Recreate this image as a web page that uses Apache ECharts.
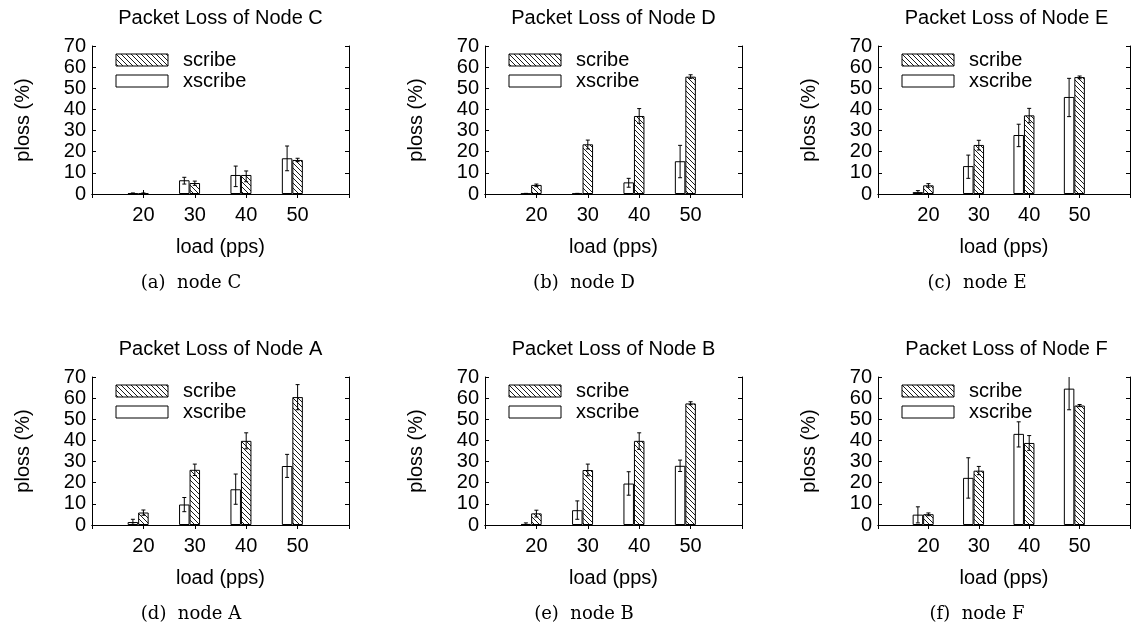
<!DOCTYPE html>
<html>
<head>
<meta charset="utf-8">
<title>Packet Loss</title>
<script src="https://cdn.jsdelivr.net/npm/echarts@6/dist/echarts.min.js"></script>
<style>
  html, body { margin: 0; padding: 0; background: #fff; }
  #chart { width: 1133px; height: 623px; }
</style>
</head>
<body>
<div id="chart"></div>
<script>
// x categories (load in pps)
const loads = ['20', '30', '40', '50'];

// node C
const scribeC = [0.3, 5.2, 9.0, 16.1];
const scribeErrC = [[0.1, 0.5], [4.1, 6.1], [5.8, 10.9], [15.3, 16.9]];
const xscribeC = [0.3, 6.5, 9.0, 16.9];
const xscribeErrC = [[0.1, 0.5], [4.7, 7.9], [3.5, 13.2], [11.0, 22.7]];

// node D
const scribeD = [4.3, 23.5, 36.9, 55.5];
const scribeErrD = [[3.5, 4.7], [21.3, 25.5], [33.4, 40.4], [54.7, 56.4]];
const xscribeD = [0.2, 0.2, 5.5, 15.5];
const xscribeErrD = [[0.1, 0.3], [0.1, 0.3], [3.2, 7.4], [7.7, 23.0]];

// node E
const scribeE = [4.1, 23.2, 37.2, 55.3];
const scribeErrE = [[3.2, 4.9], [20.8, 25.4], [33.7, 40.5], [54.5, 55.8]];
const xscribeE = [0.9, 13.2, 27.9, 45.9];
const xscribeErrE = [[0.2, 1.6], [7.4, 18.4], [22.4, 33.0], [36.6, 54.7]];

// node A
const scribeA = [5.9, 26.1, 39.8, 60.5];
const scribeErrA = [[4.6, 7.1], [23.4, 28.8], [36.0, 43.6], [54.5, 66.4]];
const xscribeA = [1.4, 9.7, 16.9, 27.9];
const xscribeErrA = [[0.3, 2.7], [6.3, 13.0], [9.8, 24.1], [22.5, 33.4]];

// node B
const scribeB = [5.5, 26.0, 39.8, 57.5];
const scribeErrB = [[3.8, 7.0], [23.3, 28.8], [35.8, 43.6], [56.9, 58.3]];
const xscribeB = [0.5, 7.0, 19.6, 28.0];
const xscribeErrB = [[0.2, 1.0], [2.7, 11.4], [14.1, 25.2], [25.3, 30.7]];

// node F
const scribeF = [5.1, 25.7, 38.8, 56.5];
const scribeErrF = [[4.4, 5.7], [23.8, 27.7], [35.3, 42.3], [56.0, 57.0]];
const xscribeF = [4.9, 22.3, 43.1, 64.5];
const xscribeErrF = [[1.0, 8.6], [12.7, 31.8], [36.9, 48.8], [54.5, 72.0]];

const panels = [
  { node: 'C', tag: '(a)', scribe: scribeC, scribeErr: scribeErrC, xscribe: xscribeC, xscribeErr: xscribeErrC },
  { node: 'D', tag: '(b)', scribe: scribeD, scribeErr: scribeErrD, xscribe: xscribeD, xscribeErr: xscribeErrD },
  { node: 'E', tag: '(c)', scribe: scribeE, scribeErr: scribeErrE, xscribe: xscribeE, xscribeErr: xscribeErrE },
  { node: 'A', tag: '(d)', scribe: scribeA, scribeErr: scribeErrA, xscribe: xscribeA, xscribeErr: xscribeErrA },
  { node: 'B', tag: '(e)', scribe: scribeB, scribeErr: scribeErrB, xscribe: xscribeB, xscribeErr: xscribeErrB },
  { node: 'F', tag: '(f)', scribe: scribeF, scribeErr: scribeErrF, xscribe: xscribeF, xscribeErr: xscribeErrF }
];

// layout
const colLeft = [92, 485, 878];
const rowTop = [46, 377];
const plotW = 257;
const plotH = 148;
const BAR_W = 10.5;
const SANS = 'Liberation Sans';

// hatch "\\\\" fill
function makeHatch() {
  const c = document.createElement('canvas');
  c.width = 5;
  c.height = 5;
  const g = c.getContext('2d');
  g.fillStyle = '#fff';
  g.fillRect(0, 0, 5, 5);
  g.strokeStyle = '#000';
  g.lineWidth = 0.9;
  g.beginPath();
  [-5, 0, 5].forEach(k => {
    g.moveTo(k, 0);
    g.lineTo(k + 5, 5);
  });
  g.stroke();
  return c;
}
const hatch = { image: makeHatch(), repeat: 'repeat' };

// padded so ticks sit where gnuplot puts them
const axisCats = [''].concat(loads, ['']);
const pad = arr => [null].concat(arr, [null]);
const errData = errs => errs.map((e, i) => [i + 1, e[0], e[1]]);

function errorBars(shift) {
  return function (params, api) {
    const cat = api.value(0);
    const x = api.coord([cat, 0])[0] + shift;
    const lo = api.coord([cat, api.value(1)])[1];
    const hi = api.coord([cat, api.value(2)])[1];
    const st = { stroke: '#000', lineWidth: 1 };
    return {
      type: 'group',
      children: [
        { type: 'line', shape: { x1: x, y1: lo, x2: x, y2: hi }, style: st },
        { type: 'line', shape: { x1: x - 2, y1: lo, x2: x + 2, y2: lo }, style: st },
        { type: 'line', shape: { x1: x - 2, y1: hi, x2: x + 2, y2: hi }, style: st }
      ]
    };
  };
}

const grid = [], xAxis = [], yAxis = [], series = [], title = [], legend = [], graphic = [];

panels.forEach((p, k) => {
  const L = colLeft[k % 3];
  const T = rowTop[Math.floor(k / 3)];
  grid.push({ left: L, top: T, width: plotW, height: plotH });

  const line = { show: true, lineStyle: { color: '#000', width: 1 } };
  xAxis.push({
    type: 'category', gridIndex: k, data: axisCats, boundaryGap: false,
    axisLine: line, axisTick: { inside: true, length: 4, lineStyle: { color: '#000' } },
    axisLabel: { interval: 0, margin: 11, color: '#000', fontFamily: SANS, fontSize: 20 },
    name: 'load (pps)', nameLocation: 'middle', nameGap: 43,
    nameTextStyle: { color: '#000', fontFamily: SANS, fontSize: 20 }
  });
  xAxis.push({
    type: 'category', gridIndex: k, position: 'top', data: axisCats, boundaryGap: false,
    axisLine: line, axisTick: { inside: true, length: 4, lineStyle: { color: '#000' } },
    axisLabel: { show: false }
  });
  yAxis.push({
    type: 'value', gridIndex: k, min: 0, max: 70, interval: 10,
    axisLine: line, axisTick: { show: true, inside: true, length: 4, lineStyle: { color: '#000' } },
    axisLabel: { margin: 6, color: '#000', fontFamily: SANS, fontSize: 20 },
    splitLine: { show: false },
    name: 'ploss (%)', nameLocation: 'middle', nameGap: 59,
    nameTextStyle: { color: '#000', fontFamily: SANS, fontSize: 20 }
  });
  yAxis.push({
    type: 'value', gridIndex: k, position: 'right', min: 0, max: 70, interval: 10,
    axisLine: line, axisTick: { show: true, inside: true, length: 4, lineStyle: { color: '#000' } },
    axisLabel: { show: false }, splitLine: { show: false }
  });

  const xi = 2 * k;
  const barBase = { type: 'bar', xAxisIndex: xi, yAxisIndex: xi, barWidth: BAR_W, barGap: 0, z: 2 };
  series.push(Object.assign({}, barBase, {
    name: 'xscribe', data: pad(p.xscribe),
    itemStyle: { color: '#fff', borderColor: '#000', borderWidth: 1 }
  }));
  series.push(Object.assign({}, barBase, {
    name: 'scribe', data: pad(p.scribe),
    itemStyle: { color: hatch, borderColor: '#000', borderWidth: 1 }
  }));
  // empty slot: gnuplot leaves one bar width gap in each cluster
  series.push(Object.assign({}, barBase, { name: 'gap', data: [] }));

  series.push({
    type: 'custom', xAxisIndex: xi, yAxisIndex: xi, z: 5, clip: true,
    renderItem: errorBars(-BAR_W), encode: { x: 0, y: [1, 2] },
    data: errData(p.xscribeErr), silent: true
  });
  series.push({
    type: 'custom', xAxisIndex: xi, yAxisIndex: xi, z: 5, clip: true,
    renderItem: errorBars(0), encode: { x: 0, y: [1, 2] },
    data: errData(p.scribeErr), silent: true
  });

  title.push({
    text: 'Packet Loss of Node ' + p.node,
    left: L + plotW / 2, top: T - 38, textAlign: 'center', padding: 0,
    textStyle: { color: '#000', fontFamily: SANS, fontSize: 20, fontWeight: 'normal' }
  });

  legend.push({
    data: ['scribe', 'xscribe'], orient: 'vertical', left: L + 23.5, top: T + 4,
    padding: 0, itemWidth: 52, itemHeight: 12, itemGap: 1, icon: 'rect',
    selectedMode: false,
    itemStyle: { borderColor: '#000', borderWidth: 1 },
    textStyle: { color: '#000', fontFamily: SANS, fontSize: 20, padding: [0, 0, 0, 10] }
  });

  graphic.push({
    type: 'text', x: L + 99, y: T + 237,
    style: {
      text: p.tag + '  node ' + p.node,
      font: '18px "DejaVu Serif"', fill: '#000',
      align: 'center', verticalAlign: 'middle',
      textAlign: 'center', textVerticalAlign: 'middle'
    }
  });
});

const chart = echarts.init(document.getElementById('chart'), null, { renderer: 'canvas' });
chart.setOption({
  animation: false,
  backgroundColor: '#fff',
  title, legend, grid, xAxis, yAxis, series, graphic
});
</script>
</body>
</html>
